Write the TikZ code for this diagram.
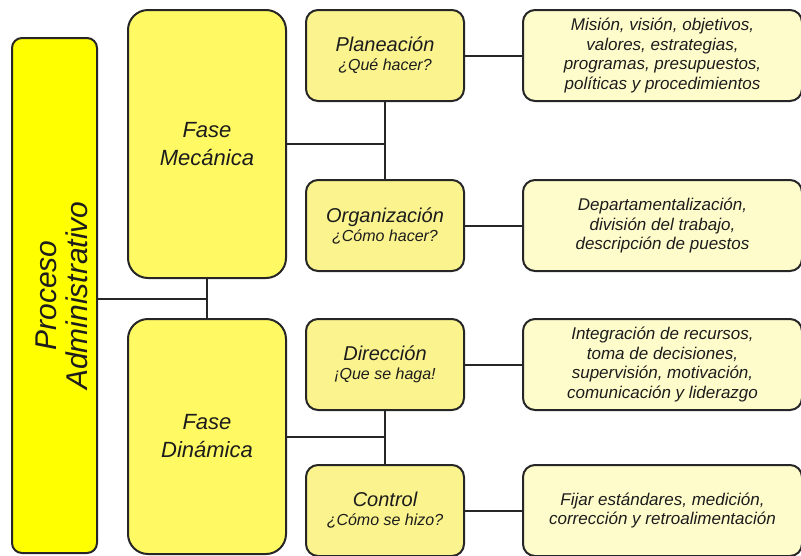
\documentclass[tikz,border=0pt]{standalone}
\usepackage{fontspec}
\setmainfont{Liberation Sans}
\usepackage{xcolor}
\usetikzlibrary{positioning,calc}
\definecolor{boxline}{HTML}{262626}
\definecolor{textgray}{HTML}{1C1C1C}
\definecolor{procyellow}{HTML}{FFFF00}
\definecolor{phaseyellow}{HTML}{FFFA63}
\definecolor{stageyellow}{HTML}{FAF38E}
\definecolor{detailyellow}{HTML}{FFFCCC}

\begin{document}
\begin{tikzpicture}[
    x=1pt, y=-1pt,
    node distance=57pt,
    base/.style={draw=boxline, line width=2pt, align=center, inner sep=2pt, text=textgray},
    proc/.style={base, rounded corners=10pt, fill=procyellow, minimum width=85pt, minimum height=515pt},
    proctext/.style={rotate=90, align=center, text=textgray, font=\itshape\fontsize{30}{31}\selectfont},
    phase/.style={base, rounded corners=20pt, fill=phaseyellow, minimum width=158pt, font=\itshape\fontsize{22}{28}\selectfont},
    stage/.style={base, rounded corners=12pt, fill=stageyellow, minimum width=158pt, minimum height=91pt, font=\itshape\fontsize{16}{19}\selectfont},
    detail/.style={base, rounded corners=12pt, fill=detailyellow, minimum width=279pt, minimum height=91pt, font=\itshape\fontsize{17}{19.5}\selectfont},
    link/.style={draw=boxline, line width=2pt}
]
\useasboundingbox (0,0) rectangle (801,555);
\node[proc] (proceso) at (54.5,295.5) {};
\node[proctext] (proctitle) at ($(proceso.center)+(7,0)$) {Proceso\\Administrativo};
\node[phase, minimum height=268pt, anchor=north west] (fasemec) at (127,9) {Fase\\Mecánica};
\node[phase, minimum height=235pt, anchor=north west] (fasedin) at (127,318) {Fase\\Dinámica};
\node[stage, anchor=north west] (plan) at (305,9) {{\fontsize{20}{22}\selectfont Planeación}\\¿Qué hacer?};
\node[stage, below=77pt of plan] (org) {{\fontsize{20}{22}\selectfont Organización}\\¿Cómo hacer?};
\node[stage, anchor=north west] (dir) at (305,318) {{\fontsize{20}{22}\selectfont Dirección}\\¡Que se haga!};
\node[stage, below=53pt of dir] (ctrl) {{\fontsize{20}{22}\selectfont Control}\\¿Cómo se hizo?};
\node[detail, right=of plan] (mision) {Misión, visión, objetivos,\\valores, estrategias,\\programas, presupuestos,\\políticas y procedimientos};
\node[detail, right=of org] (depto) {Departamentalización,\\división del trabajo,\\descripción de puestos};
\node[detail, right=of dir] (recursos) {Integración de recursos,\\toma de decisiones,\\supervisión, motivación,\\comunicación y liderazgo};
\node[detail, right=of ctrl] (estandar) {Fijar estándares, medición,\\corrección y retroalimentación};
\coordinate (jfase) at ($(fasemec.south)!0.5!(fasedin.north)$);
\draw[link] (fasemec.south) -- (fasedin.north);
\draw[link] (jfase -| proceso.east) -- (jfase);
\draw[link] (plan.south) -- (org.north);
\draw[link] (fasemec.east) -- (fasemec.east -| plan.south);
\draw[link] (dir.south) -- (ctrl.north);
\draw[link] (fasedin.east) -- (fasedin.east -| dir.south);
\draw[link] (plan) -- (mision);
\draw[link] (org) -- (depto);
\draw[link] (dir) -- (recursos);
\draw[link] (ctrl) -- (estandar);
\end{tikzpicture}
\end{document}
